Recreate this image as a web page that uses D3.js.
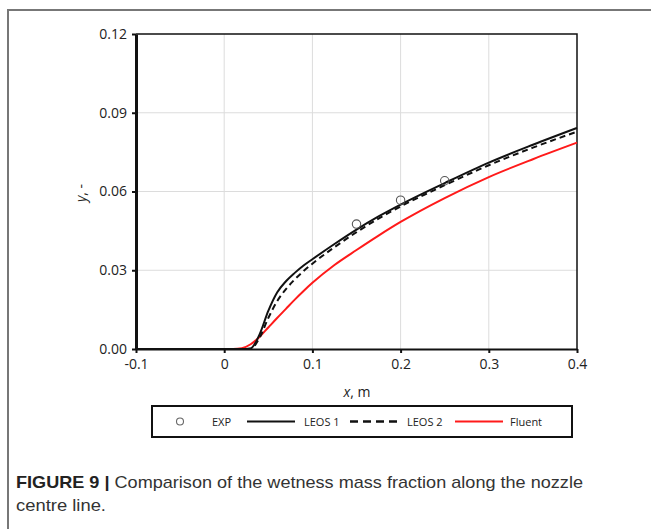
<!DOCTYPE html>
<html>
<head>
<meta charset="utf-8">
<script src="https://cdn.jsdelivr.net/npm/d3@7"></script>
<style>
  body { margin: 0; background: #fff; }
  svg { display: block; }
</style>
</head>
<body>
<div id="chart"></div>
<script>
// Data
const xGrid = [-0.1, 0, 0.01, 0.02, 0.03, 0.04, 0.05, 0.06, 0.07, 0.08, 0.09, 0.1, 0.125, 0.15, 0.175, 0.2, 0.25, 0.3, 0.35, 0.4];
const leos1 = [0, 0, 0, 0, 0.0002, 0.0055, 0.0145, 0.0215, 0.0258, 0.029, 0.0318, 0.0342, 0.04, 0.0455, 0.0505, 0.055, 0.0632, 0.071, 0.0778, 0.0842];
const leos2 = [0, 0, 0, 0, 0.0001, 0.0042, 0.0118, 0.0182, 0.0228, 0.0265, 0.0297, 0.0325, 0.0388, 0.0445, 0.0497, 0.0543, 0.0624, 0.07, 0.0767, 0.0828];
const fluent = [0, 0, 0, 0.0003, 0.0018, 0.0046, 0.0082, 0.0118, 0.0153, 0.0188, 0.0221, 0.0252, 0.032, 0.0377, 0.0432, 0.0484, 0.0575, 0.0655, 0.0723, 0.0786];
const expX = [0.15, 0.2, 0.25];
const expY = [0.0476, 0.0567, 0.0641];
const xTicks = [-0.1, 0, 0.1, 0.2, 0.3, 0.4];
const yTicks = [0, 0.03, 0.06, 0.09, 0.12];
const legendNames = ['EXP', 'LEOS 1', 'LEOS 2', 'Fluent'];

const W = 651, H = 529;
const svg = d3.select('#chart').append('svg').attr('width', W).attr('height', H);

// outer frame (top and left only)
svg.append('path')
    .attr('d', 'M8,529 V10 H651')
    .attr('fill', 'none')
    .attr('stroke', '#777')
    .attr('stroke-width', 2);

const plot = { left: 136, top: 34, right: 577, bottom: 349 };
const x = d3.scaleLinear().domain([-0.1, 0.4]).range([plot.left, plot.right]);
const y = d3.scaleLinear().domain([0, 0.12]).range([plot.bottom, plot.top]);

// gridlines
svg.append('g')
    .selectAll('line')
    .data(xTicks.slice(1, -1))
    .join('line')
    .attr('x1', (d) => x(d)).attr('x2', (d) => x(d))
    .attr('y1', plot.top).attr('y2', plot.bottom)
    .attr('stroke', '#dcdcdc').attr('stroke-width', 1);
svg.append('g')
    .selectAll('line')
    .data(yTicks.slice(1, -1))
    .join('line')
    .attr('x1', plot.left).attr('x2', plot.right)
    .attr('y1', (d) => y(d)).attr('y2', (d) => y(d))
    .attr('stroke', '#dcdcdc').attr('stroke-width', 1);

// top / right border
svg.append('path')
    .attr('d', `M${plot.left},${plot.top} H${plot.right} V${plot.bottom}`)
    .attr('fill', 'none').attr('stroke', '#111').attr('stroke-width', 1.5);

// axes
const fmtX = (d) => (d === 0 ? '0' : d3.format('.1f')(d).replace('−', '-'));
const xAxis = d3.axisBottom(x).tickValues(xTicks).tickSize(4).tickSizeOuter(0).tickFormat(fmtX);
const gx = svg.append('g').attr('transform', `translate(0,${plot.bottom})`).call(xAxis);
gx.select('.domain').attr('stroke', '#111').attr('stroke-width', 2);
gx.selectAll('.tick line').attr('stroke', '#111').attr('stroke-width', 2);
gx.selectAll('.tick text').attr('font-family', 'Open Sans').attr('font-size', 14)
    .attr('fill', '#222').attr('dy', '0.95em');

const yAxis = d3.axisLeft(y).tickValues(yTicks).tickSize(4).tickSizeOuter(0)
    .tickFormat(d3.format('.2f'));
const gy = svg.append('g').attr('transform', `translate(${plot.left},0)`).call(yAxis);
gy.select('.domain').attr('stroke', '#111').attr('stroke-width', 3);
gy.selectAll('.tick line').attr('stroke', '#111').attr('stroke-width', 2);
gy.selectAll('.tick text').attr('font-family', 'Open Sans').attr('font-size', 14)
    .attr('fill', '#222').attr('x', -9);

// axis titles
const xt = svg.append('text').attr('x', 357).attr('y', 397).attr('text-anchor', 'middle')
    .attr('font-family', 'Open Sans').attr('font-size', 14).attr('fill', '#222');
xt.append('tspan').attr('font-style', 'italic').text('x');
xt.append('tspan').text(', m');
const yt = svg.append('text').attr('transform', 'translate(86,193) rotate(-90)')
    .attr('text-anchor', 'middle')
    .attr('font-family', 'Open Sans').attr('font-size', 14).attr('fill', '#222');
yt.append('tspan').attr('font-style', 'italic').text('y');
yt.append('tspan').text(', -');

// lines
const line = (ys) => d3.line()
    .x((d, i) => x(xGrid[i]))
    .y((d) => y(d))
    .curve(d3.curveMonotoneX)(ys);

svg.append('path').attr('d', line(fluent)).attr('fill', 'none')
    .attr('stroke', '#ff1a1a').attr('stroke-width', 2);
svg.append('path').attr('d', line(leos2)).attr('fill', 'none')
    .attr('stroke', '#111').attr('stroke-width', 2).attr('stroke-dasharray', '6,4');
svg.append('path').attr('d', line(leos1)).attr('fill', 'none')
    .attr('stroke', '#111').attr('stroke-width', 2);

// experimental points
svg.append('g')
    .selectAll('circle')
    .data(expX)
    .join('circle')
    .attr('cx', (d) => x(d))
    .attr('cy', (d, i) => y(expY[i]))
    .attr('r', 4.2)
    .attr('fill', 'none')
    .attr('stroke', '#555')
    .attr('stroke-width', 1.1);

// legend
const lg = svg.append('g');
lg.append('rect').attr('x', 152).attr('y', 406).attr('width', 420).attr('height', 31)
    .attr('fill', '#fff').attr('stroke', '#111').attr('stroke-width', 2);
const ly = 421.5;
lg.append('circle').attr('cx', 180).attr('cy', ly).attr('r', 3.5)
    .attr('fill', 'none').attr('stroke', '#666').attr('stroke-width', 1.1);
lg.append('line').attr('x1', 247).attr('x2', 295).attr('y1', ly).attr('y2', ly)
    .attr('stroke', '#111').attr('stroke-width', 2);
lg.append('line').attr('x1', 350).attr('x2', 400).attr('y1', ly).attr('y2', ly)
    .attr('stroke', '#111').attr('stroke-width', 2.5).attr('stroke-dasharray', '8,5');
lg.append('line').attr('x1', 455).attr('x2', 503).attr('y1', ly).attr('y2', ly)
    .attr('stroke', '#ff1a1a').attr('stroke-width', 2);
const labelX = [212, 304, 407, 510];
lg.selectAll('text.lab')
    .data(legendNames)
    .join('text')
    .attr('class', 'lab')
    .attr('x', (d, i) => labelX[i])
    .attr('y', ly + 4)
    .attr('font-family', 'Open Sans').attr('font-size', 11).attr('fill', '#222')
    .text((d) => d);

// caption
const cap = svg.append('text').attr('x', 16).attr('y', 488)
    .attr('font-family', 'Liberation Sans, Arial, sans-serif').attr('font-size', 17)
    .attr('fill', '#222')
    .attr('textLength', 567).attr('lengthAdjust', 'spacingAndGlyphs');
cap.append('tspan').attr('font-weight', 'bold').text('FIGURE 9 | ');
cap.append('tspan').attr('fill', '#333').text('Comparison of the wetness mass fraction along the nozzle');
svg.append('text').attr('x', 16).attr('y', 511)
    .attr('font-family', 'Liberation Sans, Arial, sans-serif').attr('font-size', 17)
    .attr('fill', '#333')
    .attr('textLength', 90).attr('lengthAdjust', 'spacingAndGlyphs')
    .text('centre line.');
</script>
</body>
</html>
